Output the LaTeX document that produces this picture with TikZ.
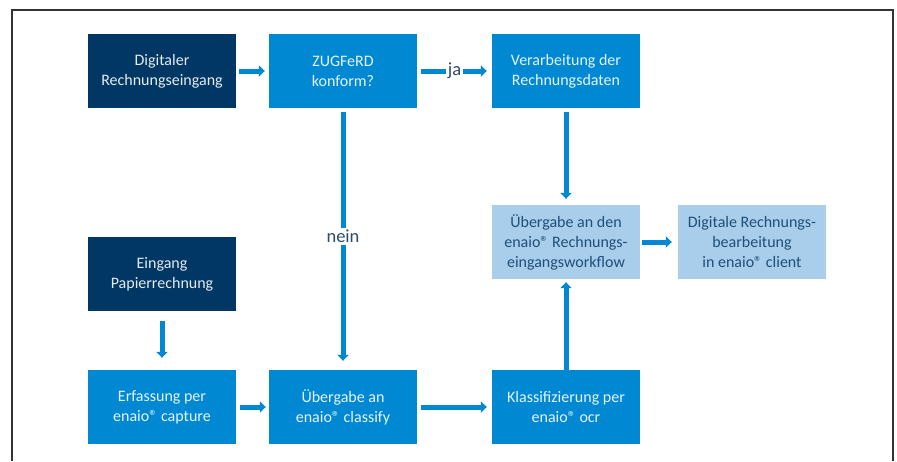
\documentclass[tikz,border=0pt]{standalone}
\usepackage{fontspec}
\setmainfont{Carlito}
\usetikzlibrary{arrows.meta}
\definecolor{navy}{HTML}{003764}
\definecolor{midblue}{HTML}{0089D2}
\definecolor{lightblue}{HTML}{A9CEEB}
\definecolor{darktext}{HTML}{1F4E79}
\definecolor{labeltext}{HTML}{2E4A6B}
\tikzset{
  box/.style={minimum width=148pt, minimum height=74pt, inner sep=0pt, align=center,
    font=\fontsize{16pt}{20pt}\selectfont},
  darkbox/.style={box, fill=navy, text=white!90!navy},
  bluebox/.style={box, fill=midblue, text=white!90!midblue},
  lightbox/.style={box, fill=lightblue, text=darktext},
  arr/.style={draw=midblue, line width=5pt, -{Triangle[length=6pt,width=11pt]}},
  lbl/.style={fill=white, text=labeltext, inner sep=2pt, font=\fontsize{18.5pt}{20pt}\selectfont},
}
\begin{document}
\begin{tikzpicture}[x=1pt,y=-1pt]
\useasboundingbox (0,0) rectangle (897,461);
\draw[line width=1.3pt, black!80] (12,461) -- (12,10) -- (893,10) -- (893,461);

\node[darkbox] (dig) at (162,71) {Digitaler\\Rechnungseingang};
\node[bluebox] (zug) at (343,71) {ZUGFeRD\\konform?};
\node[bluebox] (ver) at (566,71) {Verarbeitung der\\Rechnungsdaten};
\node[lightbox] (ueb) at (566,242) {Übergabe an den\\enaio® Rechnungs-\\eingangsworkflow};
\node[lightbox] (drb) at (752,242) {Digitale Rechnungs-\\bearbeitung\\in enaio® client};
\node[darkbox] (pap) at (162,274) {Eingang\\Papierrechnung};
\node[bluebox] (erf) at (162,407) {Erfassung per\\enaio® capture};
\node[bluebox] (cla) at (343,407) {Übergabe an\\enaio® classify};
\node[bluebox] (ocr) at (566,407) {Klassifizierung per\\enaio® ocr};

\draw[arr, shorten <=3pt, shorten >=4pt] (dig.east) -- (zug.west);
\draw[arr, shorten <=4pt, shorten >=5pt] (zug.east) -- node[lbl] (ja) {ja} (ver.west);
\draw[arr, shorten <=4pt, shorten >=9pt] (zug.south) -- node[lbl, pos=0.49] (nein) {nein} (cla.north);
\draw[arr, shorten <=4pt, shorten >=6pt] (ver.south) -- (ueb.north);
\draw[arr, shorten <=0pt, shorten >=3pt] (ocr.north) -- (ueb.south);
\draw[arr, shorten <=2pt, shorten >=6pt] (ueb.east) -- (drb.west);
\draw[arr, shorten <=10pt, shorten >=12pt] (pap.south) -- (erf.north);
\draw[arr, shorten <=4pt, shorten >=3pt] (erf.east) -- (cla.west);
\draw[arr, shorten <=4pt, shorten >=5pt] (cla.east) -- (ocr.west);
\end{tikzpicture}
\end{document}
